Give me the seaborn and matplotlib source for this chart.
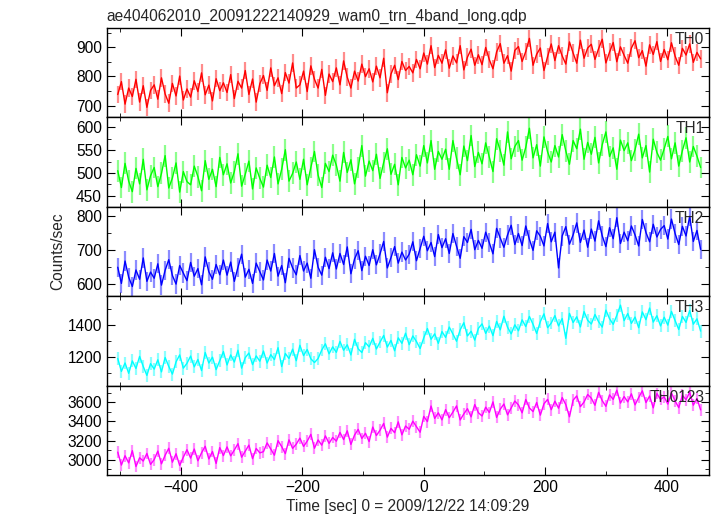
import numpy as np
import pandas as pd
import matplotlib
matplotlib.use("Agg")
import matplotlib.pyplot as plt
from matplotlib.ticker import MultipleLocator
import seaborn as sns

title = "ae404062010_20091222140929_wam0_trn_4band_long.qdp"
bands = ["TH0", "TH1", "TH2", "TH3", "TH0123"]
colors = ["#ff0000", "#00ff00", "#0000ff", "#00ffff", "#ff00ff"]
band_err = [30, 24, 28, 40, 62]

# 6 s bins from -504 s to 456 s
time = np.arange(-504, 457, 6)

th0 = [738, 782, 705, 760, 731, 790, 712, 768, 694, 752,
       771, 722, 795, 740, 708, 776, 733, 801, 719, 757,
       729, 785, 748, 812, 737, 770, 716, 792, 751, 778,
       745, 806, 724, 783, 760, 820, 738, 791, 712, 775,
       803, 752, 829, 768, 795, 741, 813, 777, 846, 760,
       771, 818, 748, 836, 790, 760, 824, 735, 808, 782,
       829, 771, 853, 797, 760, 818, 784, 842, 799, 826,
       781, 835, 795, 862, 744, 808, 838, 789, 851, 820,
       834, 812, 858, 826, 880, 842, 905, 830, 872, 845,
       891, 828, 870, 846, 905, 822, 866, 893, 838, 874,
       840, 899, 857, 826, 884, 912, 845, 871, 818, 889,
       902, 851, 885, 930, 838, 876, 897, 820, 868, 911,
       854, 905, 870, 842, 918, 880, 845, 924, 862, 897,
       910, 858, 895, 927, 846, 883, 916, 850, 901, 872,
       845, 897, 922, 864, 888, 835, 908, 875, 919, 851,
       892, 857, 915, 869, 838, 896, 873, 911, 848, 882,
       860]
th1 = [505, 468, 521, 482, 459, 510, 476, 530, 463, 494,
       512, 470, 499, 538, 467, 489, 522, 458, 503, 481,
       474, 515, 492, 461, 527, 486, 508, 470, 534, 496,
       520, 478, 503, 542, 471, 497, 526, 465, 511, 488,
       469, 517, 490, 535, 476, 508, 551, 482, 499, 524,
       486, 530, 474, 512, 547, 495, 468, 521, 503, 539,
       517, 482, 545, 501, 529, 476, 512, 560, 493, 526,
       505, 541, 488, 523, 553, 497, 519, 474, 534, 511,
       528, 496, 540, 515, 560, 522, 571, 508, 547, 530,
       552, 508, 571, 532, 496, 559, 527, 582, 514, 545,
       520, 566, 534, 503, 575, 549, 517, 590, 531, 558,
       571, 528, 556, 598, 533, 562, 515, 579, 546, 524,
       560, 535, 584, 548, 519, 571, 553, 596, 530, 567,
       541, 578, 522, 562, 590, 536, 555, 508, 572, 549,
       566, 527, 551, 585, 533, 560, 502, 574, 545, 528,
       553, 580, 531, 566, 515, 549, 577, 524, 558, 537,
       512]
th2 = [650, 603, 668, 621, 594, 642, 615, 677, 609, 636,
       618, 660, 598, 641, 672, 626, 601, 655, 633, 611,
       664, 624, 646, 599, 680, 637, 615, 658, 628, 671,
       627, 665, 609, 650, 688, 621, 644, 603, 662, 637,
       613, 671, 639, 690, 624, 655, 605, 676, 648, 628,
       684, 639, 662, 618, 701, 650, 627, 679, 646, 692,
       645, 690, 658, 709, 631, 674, 698, 640, 682, 655,
       701, 657, 689, 725, 648, 678, 710, 662, 694, 671,
       688, 724, 669, 705, 740, 698, 722, 681, 745, 707,
       733, 690, 748, 711, 676, 739, 722, 760, 701, 728,
       705, 752, 721, 689, 763, 735, 708, 744, 772, 716,
       748, 713, 770, 731, 699, 756, 740, 712, 777, 724,
       752, 648, 741, 768, 717, 744, 779, 722, 758, 708,
       761, 726, 785, 741, 710, 765, 733, 794, 719, 752,
       727, 770, 744, 712, 789, 751, 724, 775, 738, 760,
       771, 732, 790, 748, 716, 769, 741, 798, 725, 757,
       702]
th3 = [1190, 1110, 1162, 1098, 1175, 1128, 1203, 1140, 1085, 1158,
       1124, 1182, 1107, 1196, 1141, 1093, 1169, 1212, 1130, 1160,
       1205, 1138, 1184, 1115, 1227, 1162, 1198, 1121, 1176, 1233,
       1150, 1212, 1168, 1241, 1130, 1195, 1224, 1152, 1206, 1173,
       1236, 1162, 1214, 1183, 1257, 1140, 1221, 1190, 1248, 1176,
       1272, 1208, 1246, 1188, 1165, 1190, 1243, 1281, 1219, 1262,
       1228, 1296, 1241, 1275, 1212, 1309, 1250, 1227, 1288, 1262,
       1315, 1249, 1292, 1333, 1261, 1302, 1238, 1318, 1284, 1347,
       1276, 1330, 1295, 1252, 1318, 1376, 1309, 1343, 1284, 1357,
       1321, 1385, 1342, 1297, 1368, 1412, 1330, 1359, 1304, 1377,
       1405, 1346, 1391, 1332, 1420, 1368, 1452, 1384, 1343, 1399,
       1362, 1430, 1388, 1451, 1402, 1345, 1419, 1467, 1381, 1410,
       1456, 1392, 1438, 1315, 1470, 1413, 1449, 1386, 1481, 1427,
       1404, 1463, 1418, 1385, 1490, 1437, 1402, 1458, 1521, 1425,
       1469, 1408, 1447, 1381, 1479, 1431, 1503, 1416, 1455, 1392,
       1446, 1397, 1482, 1425, 1370, 1451, 1414, 1488, 1403, 1436,
       1360]
th0123 = [3080, 2945, 3042, 2968, 3095, 2930, 3021, 2987, 3066, 2952,
          3002, 3091, 2958, 3047, 3120, 2975, 3063, 2941, 3028, 3105,
          3018, 3112, 2990, 3073, 3141, 3009, 3086, 2962, 3127, 3044,
          3134, 3041, 3102, 3168, 3027, 3089, 3153, 3012, 3118, 3072,
          3085, 3176, 3112, 3048, 3199, 3137, 3064, 3208, 3119, 3163,
          3226, 3139, 3194, 3265, 3120, 3207, 3152, 3249, 3171, 3232,
          3194, 3285, 3211, 3302, 3160, 3258, 3317, 3222, 3276, 3190,
          3341, 3253, 3308, 3379, 3236, 3327, 3282, 3395, 3260, 3352,
          3318, 3402, 3345, 3287, 3452, 3398, 3560, 3431, 3489, 3416,
          3523, 3438, 3497, 3561, 3415, 3478, 3532, 3447, 3575, 3490,
          3456, 3548, 3492, 3603, 3441, 3527, 3581, 3468, 3539, 3612,
          3571, 3489, 3628, 3540, 3502, 3597, 3465, 3583, 3629, 3522,
          3610, 3537, 3648, 3574, 3448, 3621, 3665, 3553, 3602, 3680,
          3641, 3568, 3702, 3615, 3557, 3676, 3629, 3725, 3590, 3658,
          3603, 3687, 3572, 3649, 3718, 3596, 3664, 3541, 3690, 3628,
          3655, 3580, 3697, 3612, 3543, 3671, 3626, 3704, 3569, 3638,
          3520]

ylims = [(660, 966), (426, 622), (566, 826), (1022, 1577), (2842, 3773)]
ymajor = [100, 50, 100, 200, 200]
yminor = [50, 25, 50, 100, 100]

rates = [th0, th1, th2, th3, th0123]
df = pd.concat([pd.DataFrame({"time": time, "rate": r, "band": b})
                for r, b in zip(rates, bands)], ignore_index=True)

sns.set_style("ticks")
plt.rcParams["font.family"] = ["Liberation Sans", "DejaVu Sans"]
plt.rcParams["font.size"] = 11.2

fig, axes = plt.subplots(5, 1, figsize=(7.17, 5.16), dpi=100, sharex=True)
fig.subplots_adjust(left=0.149, right=0.989, top=0.946, bottom=0.0795, hspace=0)

for i, ax in enumerate(axes):
    sub = df[df["band"] == bands[i]]
    # error bars form the lighter band behind the light curve
    ax.vlines(sub["time"], sub["rate"] - band_err[i], sub["rate"] + band_err[i],
              color=colors[i], alpha=0.45, lw=1.6)
    sns.lineplot(data=sub, x="time", y="rate", ax=ax, color=colors[i], lw=1.0)
    ax.set_ylim(*ylims[i])
    ax.set_xlim(-522, 470)
    ax.yaxis.set_major_locator(MultipleLocator(ymajor[i]))
    ax.yaxis.set_minor_locator(MultipleLocator(yminor[i]))
    ax.xaxis.set_major_locator(MultipleLocator(200))
    ax.xaxis.set_minor_locator(MultipleLocator(100))
    ax.tick_params(which="both", direction="in", top=True, right=True,
                   labelsize=11.2, colors="black")
    ax.tick_params(which="major", length=6)
    ax.tick_params(which="minor", length=3)
    for s in ax.spines.values():
        s.set_linewidth(1)
        s.set_color("black")
    ax.set_ylabel("")
    ax.set_xlabel("")
    ax.text(0.992, 0.955, bands[i], transform=ax.transAxes,
            ha="right", va="top", fontsize=11.2)

axes[0].set_title(title, loc="left", fontsize=11.2, pad=5)
axes[-1].set_xlabel("Time [sec] 0 = 2009/12/22 14:09:29", fontsize=11.2, labelpad=3)
fig.text(0.081, 0.513, "Counts/sec", rotation=90, ha="center", va="center", fontsize=11.2)

fig.savefig("out.png", dpi=100)
